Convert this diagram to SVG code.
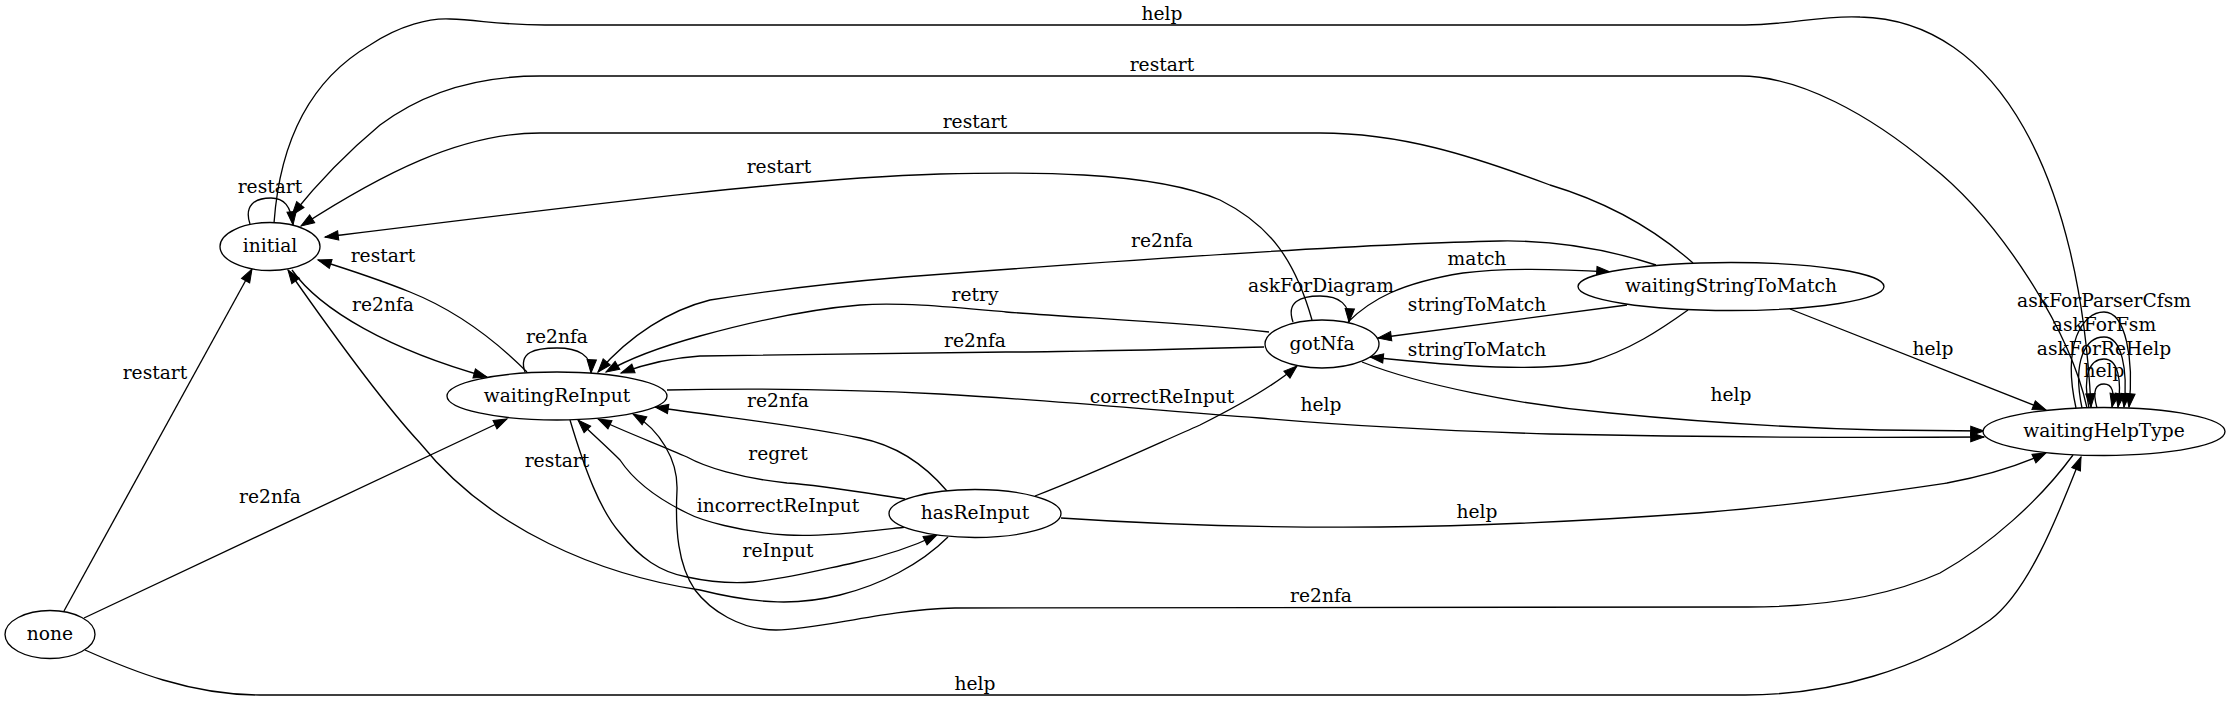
<svg xmlns="http://www.w3.org/2000/svg" width="2229" height="701" viewBox="0 0 2229 701">
<style>
  .node ellipse { fill: #ffffff; stroke: #000000; stroke-width: 1.33; }
  text { font-family: "DejaVu Serif", "Liberation Serif", serif; font-size: 18.67px; text-anchor: middle; fill: #000000; }
  .edge { fill: none; stroke: #000000; stroke-width: 1.33; marker-end: url(#arrow); }
  .plain { fill: none; stroke: #000000; stroke-width: 1.33; }
</style>
<defs>
  <marker id="arrow" markerUnits="userSpaceOnUse" markerWidth="16" markerHeight="12" refX="13.3" refY="4.67" orient="auto" overflow="visible">
    <path d="M0,0 L13.3,4.67 L0,9.33 Z" fill="#000000" stroke="#000000" stroke-width="1"/>
  </marker>
</defs>
<rect x="0" y="0" width="2229" height="701" fill="#ffffff"/>

<g id="connectors">
  <!-- initial self loop restart -->
  <path class="edge" d="M250,224 C244,206 254,198 271,198 C284,198 291,206 293,225"/>
  <!-- initial -> waitingHelpType help -->
  <path class="edge" d="M274,223 C280,140 310,80 370,45 C400,25 430,18 450,19 C480,20 500,25 545,25 L1745,25 C1790,25 1820,15 1860,17 C2000,20 2080,180 2091,407"/>
  <!-- waitingHelpType -> initial restart -->
  <path class="edge" d="M2087,408 C2070,330 2000,220 1930,165 C1870,115 1800,76 1740,76 L540,76 C470,76 420,95 380,125 C350,150 320,180 292,215"/>
  <!-- waitingStringToMatch -> initial restart -->
  <path class="edge" d="M1693,263 C1650,225 1600,200 1550,185 C1470,155 1400,133 1320,133 L540,133 C460,133 380,175 301,226"/>
  <!-- gotNfa -> initial restart -->
  <path class="edge" d="M1312,320 C1295,260 1270,225 1220,200 C1150,170 1020,172 940,174 C800,178 600,203 325,237"/>
  <!-- waitingReInput -> initial restart -->
  <path class="edge" d="M527,372 C490,335 450,308 410,292 C380,280 350,270 318,260"/>
  <!-- initial -> waitingReInput re2nfa -->
  <path class="edge" d="M292,270 C320,310 390,350 487,377"/>
  <!-- none -> initial restart -->
  <path class="edge" d="M64,611 L252,269"/>
  <!-- none -> waitingReInput re2nfa -->
  <path class="edge" d="M84,618 L507,419"/>
  <!-- none -> waitingHelpType help -->
  <path class="edge" d="M85,650 C130,670 190,695 260,695 L1745,695 C1830,695 1920,670 1990,620 C2030,590 2060,510 2081,457"/>
  <!-- waitingReInput self loop re2nfa -->
  <path class="edge" d="M525,372 C518,352 535,348 557,348 C578,348 592,355 591,373"/>
  <!-- waitingStringToMatch -> waitingReInput re2nfa -->
  <path class="edge" d="M1656,265 C1610,250 1560,240 1500,241 C1350,244 1100,262 904,277 C820,284 760,292 710,300 C670,310 630,335 598,372"/>
  <!-- gotNfa -> waitingReInput retry -->
  <path class="edge" d="M1269,332 C1180,322 1080,318 1006,312 C950,307 900,302 860,305 C800,310 740,325 700,336 C660,347 630,358 606,372"/>
  <!-- gotNfa -> waitingReInput re2nfa -->
  <path class="edge" d="M1264,347 C1150,350 1050,352 1006,352 C900,354 800,354 700,356 C670,358 645,364 621,373"/>
  <!-- gotNfa self loop askForDiagram -->
  <path class="edge" d="M1293,322 C1286,302 1300,296 1320,296 C1340,296 1350,305 1349,322"/>
  <!-- gotNfa -> waitingStringToMatch match -->
  <path class="edge" d="M1348,322 C1370,300 1400,283 1463,273 C1500,268 1560,269 1610,272"/>
  <!-- waitingStringToMatch -> gotNfa stringToMatch (upper) -->
  <path class="edge" d="M1627,305 L1378,338"/>
  <!-- waitingStringToMatch -> gotNfa stringToMatch (lower) -->
  <path class="edge" d="M1688,310 C1660,330 1630,350 1590,362 C1540,372 1463,367 1370,357"/>
  <!-- waitingStringToMatch -> waitingHelpType help -->
  <path class="edge" d="M1790,309 L2046,410"/>
  <!-- gotNfa -> waitingHelpType help -->
  <path class="edge" d="M1362,362 C1420,385 1520,405 1610,413 C1700,422 1800,428 1880,430 L1984,431"/>
  <!-- waitingReInput -> waitingHelpType help -->
  <path class="edge" d="M667,390 C760,388 860,390 940,394 C1050,400 1150,410 1260,418 C1350,426 1450,431 1550,434 C1700,437 1850,438 1984,437"/>
  <!-- hasReInput -> gotNfa correctReInput -->
  <path class="edge" d="M1035,496 C1090,475 1150,447 1200,425 C1240,405 1275,385 1297,366"/>
  <!-- hasReInput -> waitingReInput re2nfa -->
  <path class="edge" d="M947,491 C925,465 895,445 860,438 C800,425 720,417 655,407"/>
  <!-- hasReInput -> waitingReInput regret -->
  <path class="edge" d="M905,499 C860,492 820,485 787,483 C740,478 705,467 687,457 C660,445 625,432 598,419"/>
  <!-- hasReInput -> waitingReInput incorrectReInput -->
  <path class="edge" d="M907,527 C860,532 820,537 787,535 C740,532 700,520 687,513 C650,495 630,475 620,460 C605,445 590,432 578,420"/>
  <!-- waitingReInput -> hasReInput reInput -->
  <path class="edge" d="M570,420 C585,470 600,510 620,533 C640,558 660,572 687,577 C710,582 730,584 753,582 C790,578 820,570 853,563 C880,557 910,548 937,535"/>
  <!-- hasReInput -> initial restart -->
  <path class="edge" d="M948,537 C920,565 880,585 840,595 C800,605 760,605 700,590 C600,575 490,530 420,443 C380,400 330,330 288,270"/>
  <!-- hasReInput -> waitingHelpType help -->
  <path class="edge" d="M1061,518 C1150,524 1250,528 1380,527 C1500,526 1600,520 1698,513 C1800,505 1900,490 1947,483 C1990,475 2020,465 2046,453"/>
  <!-- waitingHelpType -> waitingReInput re2nfa -->
  <path class="edge" d="M2073,455 C2040,500 1990,545 1940,573 C1880,600 1810,607 1748,607 L955,608 C880,610 820,630 776,630 C740,630 710,610 695,590 C678,565 675,530 677,490 C678,460 660,430 633,414"/>
  <!-- waitingHelpType self loops -->
  <path class="edge" d="M2097,408 C2092,390 2096,384 2104,384 C2112,384 2115,392 2112,407"/>
  <path class="edge" d="M2089,408 C2082,375 2090,359 2104,359 C2118,359 2122,380 2118,407"/>
  <path class="edge" d="M2082,408 C2072,360 2086,337 2104,337 C2122,337 2128,370 2124,407"/>
  <path class="edge" d="M2076,408 C2062,345 2082,312 2104,312 C2126,312 2134,360 2129,407"/>
</g>

<g id="edge-labels">
  <text x="270" y="193">restart</text>
  <text x="1162" y="20">help</text>
  <text x="1162" y="71">restart</text>
  <text x="975" y="128">restart</text>
  <text x="779" y="173">restart</text>
  <text x="383" y="262">restart</text>
  <text x="383" y="311">re2nfa</text>
  <text x="155" y="379">restart</text>
  <text x="270" y="503">re2nfa</text>
  <text x="975" y="690">help</text>
  <text x="557" y="343">re2nfa</text>
  <text x="1162" y="247">re2nfa</text>
  <text x="975" y="301">retry</text>
  <text x="975" y="347">re2nfa</text>
  <text x="1321" y="292">askForDiagram</text>
  <text x="1477" y="265">match</text>
  <text x="1477" y="311">stringToMatch</text>
  <text x="1477" y="356">stringToMatch</text>
  <text x="1933" y="355">help</text>
  <text x="1731" y="401">help</text>
  <text x="1321" y="411">help</text>
  <text x="1162" y="403">correctReInput</text>
  <text x="778" y="407">re2nfa</text>
  <text x="778" y="460">regret</text>
  <text x="778" y="512">incorrectReInput</text>
  <text x="778" y="557">reInput</text>
  <text x="557" y="467">restart</text>
  <text x="1477" y="518">help</text>
  <text x="1321" y="602">re2nfa</text>
  <text x="2104" y="377">help</text>
  <text x="2104" y="355">askForReHelp</text>
  <text x="2104" y="331">askForFsm</text>
  <text x="2104" y="307">askForParserCfsm</text>
</g>

<g id="node-initial" class="node">
  <ellipse cx="270" cy="246.5" rx="50" ry="24"/>
  <text x="270" y="252">initial</text>
</g>
<g id="node-waitingReInput" class="node">
  <ellipse cx="557" cy="396" rx="110" ry="24"/>
  <text x="557" y="401.5">waitingReInput</text>
</g>
<g id="node-none" class="node">
  <ellipse cx="50" cy="634.5" rx="45" ry="24"/>
  <text x="50" y="640">none</text>
</g>
<g id="node-gotNfa" class="node">
  <ellipse cx="1322" cy="344" rx="57" ry="24"/>
  <text x="1322" y="349.5">gotNfa</text>
</g>
<g id="node-waitingStringToMatch" class="node">
  <ellipse cx="1731" cy="286.5" rx="153" ry="24"/>
  <text x="1731" y="292">waitingStringToMatch</text>
</g>
<g id="node-waitingHelpType" class="node">
  <ellipse cx="2104" cy="431.5" rx="121" ry="24"/>
  <text x="2104" y="437">waitingHelpType</text>
</g>
<g id="node-hasReInput" class="node">
  <ellipse cx="975" cy="513.5" rx="86" ry="24"/>
  <text x="975" y="519">hasReInput</text>
</g>
</svg>
